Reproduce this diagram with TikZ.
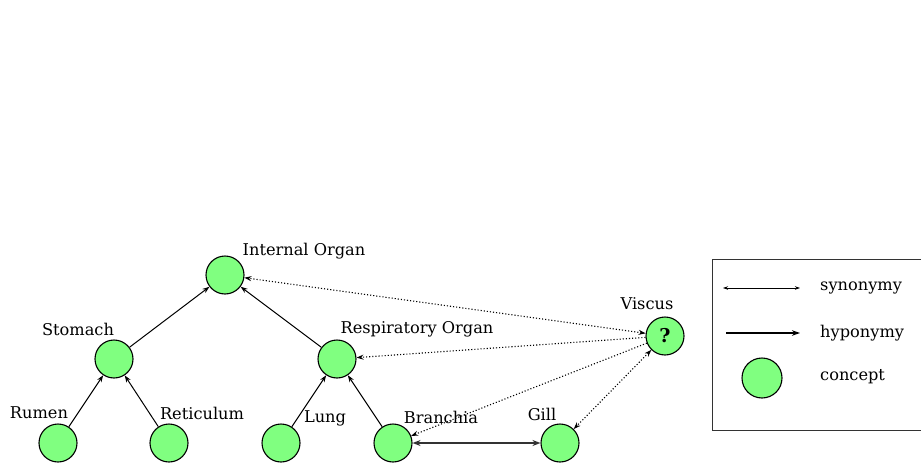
\documentclass[tikz,border=0pt]{standalone}
\usepackage{fontspec}
\setmainfont{DejaVu Serif}
\usetikzlibrary{arrows.meta}
\definecolor{conceptgreen}{RGB}{128,255,128}
\tikzset{
  concept/.style={circle, draw=black, line width=1.1pt, fill=conceptgreen, minimum size=38pt, inner sep=0pt, font=\fontsize{19}{19}\selectfont},
  lbl/.style={font=\fontsize{16.2}{16.2}\selectfont, inner sep=0pt},
  hypo/.style={-{Stealth[length=7pt,width=5pt]}, line width=1pt},
  syno/.style={{Stealth[length=8pt,width=6pt]}-{Stealth[length=8pt,width=6pt]}, line width=1.4pt, draw=black!80},
  dotarr/.style={dotted, line width=1.1pt, -{Stealth[length=7pt,width=5pt]}},
  dotboth/.style={dotted, line width=1.1pt, {Stealth[length=7pt,width=5pt]}-{Stealth[length=7pt,width=5pt]}}
}
\begin{document}
\begin{tikzpicture}[x=1pt,y=-1pt]
\useasboundingbox (0,0) rectangle (921,463);
\clip (0,0) rectangle (921,463);
% concepts
\node[concept] (io) at (225,275) {};
\node[concept] (st) at (114,359) {};
\node[concept] (ro) at (337,359) {};
\node[concept] (ru) at (58,443) {};
\node[concept] (re) at (169,443) {};
\node[concept] (lu) at (281,443) {};
\node[concept] (br) at (393,443) {};
\node[concept] (gi) at (560,443) {};
\node[concept] (vi) at (665,336) {\textbf{?}};
% labels
\node[lbl] (lio) at (304,251) {Internal Organ};
\node[lbl] (lst) at (78,329) {Stomach};
\node[lbl] (lro) at (417,329) {Respiratory Organ};
\node[lbl] (lru) at (39,413) {Rumen};
\node[lbl] (lre) at (202,413) {Reticulum};
\node[lbl] (llu) at (325,418) {Lung};
\node[lbl] (lbr) at (441,417) {Branchia};
\node[lbl] (lgi) at (542,414) {Gill};
\node[lbl] (lvi) at (647,304) {Viscus};
% hyponymy
\draw[hypo] (st) -- (io);
\draw[hypo] (ro) -- (io);
\draw[hypo] (ru) -- (st);
\draw[hypo] (re) -- (st);
\draw[hypo] (lu) -- (ro);
\draw[hypo] (br) -- (ro);
% synonymy
\draw[syno] (br) -- (gi);
% viscus
\draw[dotboth] (vi) -- (io);
\draw[dotarr] (vi) -- (ro);
\draw[dotarr] (vi) -- (br);
\draw[dotboth] (vi) -- (gi);
% legend
\node[draw=black!80, line width=1.1pt, minimum width=240pt, minimum height=171pt, anchor=north west, inner sep=0pt] (leg) at (712,259) {};
\coordinate (s1) at (723,288);
\coordinate (s2) at (800,288);
\coordinate (h1) at (726,333);
\coordinate (h2) at (800,333);
\draw[{Stealth[length=5pt,width=3.5pt]}-{Stealth[length=5pt,width=3.5pt]}, line width=0.8pt] (s1) -- (s2);
\draw[hypo, -{Stealth[length=8pt,width=5.5pt]}, line width=1.2pt] (h1) -- (h2);
\node[concept, minimum size=40pt] (lc) at (762,378) {};
\node[lbl, anchor=west] (t1) at (820,288) {synonymy};
\node[lbl, anchor=west] (t2) at (820,333) {hyponymy};
\node[lbl, anchor=west] (t3) at (820,377) {concept};
\end{tikzpicture}
\end{document}
